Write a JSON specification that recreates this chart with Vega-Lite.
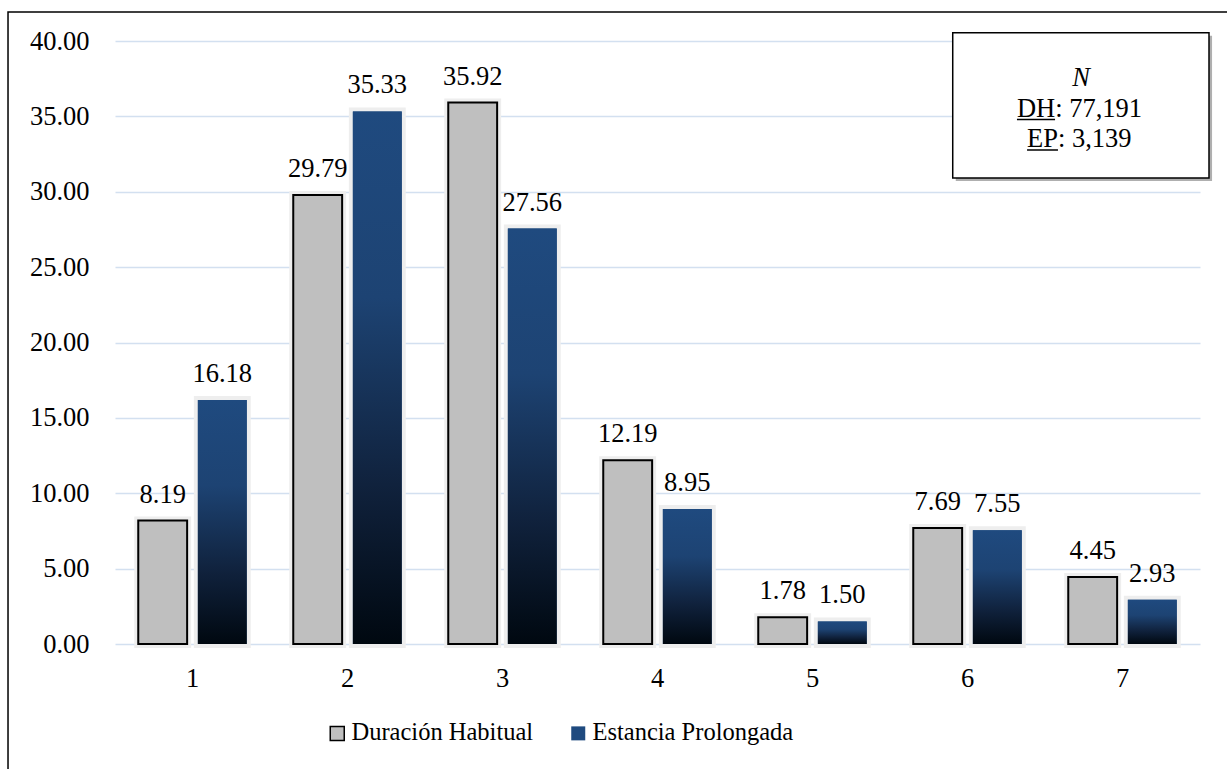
{
  "$schema": "https://vega.github.io/schema/vega-lite/v6.json",
  "autosize": {"type": "none"},
  "width": 1085,
  "height": 603,
  "padding": {"left": 115, "top": 41, "right": 27, "bottom": 125},
  "background": "white",
  "config": {
    "view": {"stroke": null},
    "font": "Liberation Serif"
  },
  "datasets": {
    "barras": [
      {"grupo": "1", "serie": "Duración Habitual", "valor": 8.19},
      {"grupo": "1", "serie": "Estancia Prolongada", "valor": 16.18},
      {"grupo": "2", "serie": "Duración Habitual", "valor": 29.79},
      {"grupo": "2", "serie": "Estancia Prolongada", "valor": 35.33},
      {"grupo": "3", "serie": "Duración Habitual", "valor": 35.92},
      {"grupo": "3", "serie": "Estancia Prolongada", "valor": 27.56},
      {"grupo": "4", "serie": "Duración Habitual", "valor": 12.19},
      {"grupo": "4", "serie": "Estancia Prolongada", "valor": 8.95},
      {"grupo": "5", "serie": "Duración Habitual", "valor": 1.78},
      {"grupo": "5", "serie": "Estancia Prolongada", "valor": 1.50},
      {"grupo": "6", "serie": "Duración Habitual", "valor": 7.69},
      {"grupo": "6", "serie": "Estancia Prolongada", "valor": 7.55},
      {"grupo": "7", "serie": "Duración Habitual", "valor": 4.45},
      {"grupo": "7", "serie": "Estancia Prolongada", "valor": 2.93}
    ]
  },
  "layer": [
    {
      "data": {"name": "barras"},
      "encoding": {
        "x": {
          "field": "grupo", "type": "nominal", "title": null,
          "scale": {"paddingInner": 0.3, "paddingOuter": 0.15},
          "axis": {
            "labelAngle": 0, "labelFont": "Liberation Serif", "labelFontSize": 26.5,
            "labelColor": "#000000", "labelPadding": 21,
            "domain": false, "ticks": false, "grid": false
          }
        },
        "xOffset": {
          "field": "serie", "type": "nominal",
          "scale": {"domain": ["Duración Habitual", "Estancia Prolongada"], "paddingInner": 0.18, "paddingOuter": 0}
        },
        "y": {
          "field": "valor", "type": "quantitative", "title": null,
          "scale": {"domain": [0, 40], "nice": false},
          "axis": {
            "values": [0, 5, 10, 15, 20, 25, 30, 35, 40], "format": ".2f",
            "labelFont": "Liberation Serif", "labelFontSize": 26.5, "labelColor": "#000000",
            "labelPadding": 26, "domain": false, "ticks": false,
            "gridColor": "#d3e0f0", "gridWidth": 1.5
          }
        }
      },
      "layer": [
        {
          "mark": {"type": "bar", "fill": "#eeeeee", "stroke": "#eeeeee", "strokeWidth": 8}
        },
        {
          "mark": {"type": "bar", "strokeWidth": 2},
          "encoding": {
            "fill": {
              "field": "serie", "type": "nominal",
              "scale": {
                "domain": ["Duración Habitual", "Estancia Prolongada"],
                "range": ["#bfbfbf", "#1f4a7f"]
              },
              "legend": {
                "title": null, "orient": "none", "direction": "horizontal",
                "legendX": 210, "legendY": 680,
                "symbolType": "square", "symbolSize": 196, "symbolStrokeWidth": 1.5,
                "labelFont": "Liberation Serif", "labelFontSize": 24.5, "labelColor": "#000000",
                "labelOffset": 2, "columnPadding": 32, "labelLimit": 500
              }
            },
            "stroke": {
              "field": "serie", "type": "nominal",
              "scale": {"domain": ["Duración Habitual", "Estancia Prolongada"], "range": ["#000000", "transparent"]},
              "legend": null
            }
          }
        },
        {
          "transform": [{"filter": "datum.serie === 'Estancia Prolongada'"}],
          "mark": {
            "type": "bar",
            "fill": {
              "gradient": "linear", "x1": 0, "y1": 0, "x2": 0, "y2": 1,
              "stops": [
                {"offset": 0, "color": "#1f4a7f"},
                {"offset": 0.35, "color": "#1d4373"},
                {"offset": 0.7, "color": "#10223d"},
                {"offset": 1, "color": "#000810"}
              ]
            }
          }
        },
        {
          "mark": {"type": "text", "baseline": "alphabetic", "dy": -18, "fontSize": 26.5, "font": "Liberation Serif", "color": "#000000"},
          "encoding": {
            "text": {"field": "valor", "type": "quantitative", "format": ".2f"}
          }
        }
      ]
    },
    {
      "data": {"values": [{}]},
      "layer": [
        {
          "mark": {"type": "rect", "fill": "transparent", "stroke": "#000000", "strokeWidth": 1.5},
          "encoding": {
            "x": {"datum": -0.0986, "type": "quantitative", "scale": {"domain": [0, 1], "nice": false, "zero": false}, "axis": null},
            "x2": {"datum": 1.3},
            "y": {"datum": 41.92, "type": "quantitative"},
            "y2": {"datum": -30}
          }
        },
        {
          "mark": {"type": "rect", "fill": "#7a7a7a", "opacity": 0.6},
          "encoding": {
            "x": {"datum": 0.7749, "type": "quantitative"},
            "x2": {"datum": 1.0111},
            "y": {"datum": 40.35, "type": "quantitative"},
            "y2": {"datum": 30.71}
          }
        },
        {
          "mark": {"type": "rect", "fill": "#ffffff", "stroke": "#000000", "strokeWidth": 1.5},
          "encoding": {
            "x": {"datum": 0.7721, "type": "quantitative"},
            "x2": {"datum": 1.0083},
            "y": {"datum": 40.55, "type": "quantitative"},
            "y2": {"datum": 30.91}
          }
        },
        {
          "mark": {"type": "text", "text": "N", "font": "Liberation Serif", "fontStyle": "italic", "fontSize": 26.5, "align": "center", "baseline": "alphabetic", "color": "#000000"},
          "encoding": {
            "x": {"datum": 0.8903, "type": "quantitative"},
            "y": {"datum": 37.0, "type": "quantitative"}
          }
        },
        {
          "mark": {"type": "text", "text": "DH: 77,191", "font": "Liberation Serif", "fontSize": 26.5, "align": "left", "baseline": "alphabetic", "color": "#000000"},
          "encoding": {
            "x": {"datum": 0.8313, "type": "quantitative"},
            "y": {"datum": 34.98, "type": "quantitative"}
          }
        },
        {
          "mark": {"type": "text", "text": "EP: 3,139", "font": "Liberation Serif", "fontSize": 26.5, "align": "left", "baseline": "alphabetic", "color": "#000000"},
          "encoding": {
            "x": {"datum": 0.8406, "type": "quantitative"},
            "y": {"datum": 32.99, "type": "quantitative"}
          }
        },
        {
          "mark": {"type": "rule", "stroke": "#000000", "strokeWidth": 1.5},
          "encoding": {
            "x": {"datum": 0.8313, "type": "quantitative"},
            "x2": {"datum": 0.8664},
            "y": {"datum": 34.8, "type": "quantitative"}
          }
        },
        {
          "mark": {"type": "rule", "stroke": "#000000", "strokeWidth": 1.5},
          "encoding": {
            "x": {"datum": 0.8406, "type": "quantitative"},
            "x2": {"datum": 0.8691},
            "y": {"datum": 32.77, "type": "quantitative"}
          }
        }
      ]
    }
  ],
  "resolve": {"scale": {"x": "independent"}}
}
